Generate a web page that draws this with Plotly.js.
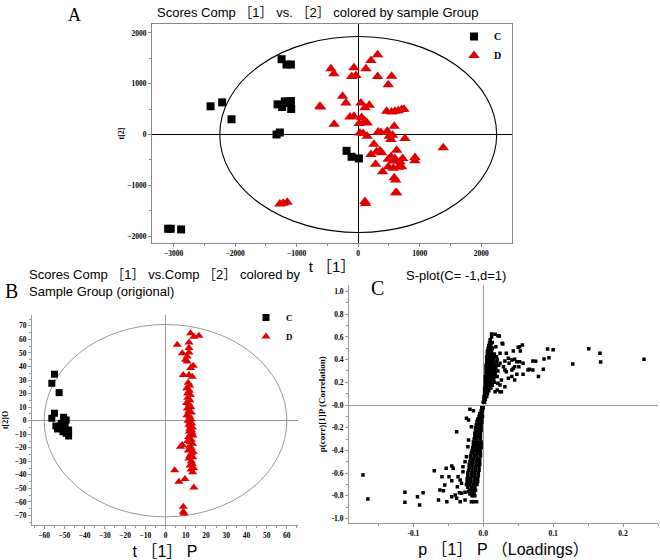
<!DOCTYPE html>
<html><head><meta charset="utf-8">
<script src="https://cdn.plot.ly/plotly-3.0.1.min.js"></script>
<style>html,body{margin:0;padding:0;background:#fff}#chart{width:660px;height:560px}</style>
</head><body><div id="chart"></div>
<script>
// ---------- Panel A data (t[1], t[2]) ----------
const aGroupC = [[-2400,555],[-2211,633],[-2059,300],[-1246,1483],[-1165,1378],[-1094,1378],[-1311,594],[-1236,541],[-1192,653],[-1094,659],[-1089,502],[-1150,620],[-1327,0],[-1273,39],[-189,-322],[-108,-439],[11,-471],[-3089,-1857],[-3046,-1857],[-2878,-1870]];
const aGroupD = [[315,1569],[207,1457],[-444,1294],[-395,1196],[-70,1314],[-107,1143],[-37,1163],[125,1294],[315,1143],[543,1149],[488,980],[-254,751],[-200,620],[-611,541],[44,620],[109,529],[179,574],[-135,345],[-70,359],[55,333],[109,267],[146,227],[-390,202],[16,216],[462,457],[543,443],[597,457],[650,470],[706,490],[743,496],[585,163],[28,31],[81,20],[146,-33],[325,51],[369,39],[472,65],[504,-33],[559,-14],[532,-98],[759,-78],[255,-190],[624,-308],[299,-341],[353,-322],[380,-361],[207,-392],[532,-439],[597,-471],[722,-471],[922,-451],[922,-518],[1382,-263],[283,-588],[488,-635],[569,-667],[650,-647],[706,-635],[397,-733],[585,-851],[608,-896],[624,-1145],[608,-1145],[109,-1322],[120,-1360],[-623,555],[-1273,-1367],[-1220,-1353],[-1154,-1333],[488,-490],[678,-537],[569,-524]];
const aEllipse = {rx: 2250, ry: 1930};
const aXTicks = [-3000,-2000,-1000,0,1000,2000];
const aYTicks = [-2000,-1000,0,1000,2000];

// ---------- Panel B data (t[1]P, t[2]O) ----------
const bGroupC = [[-54.9,34.3],[-56.2,27.6],[-52.6,20.7],[-54.9,5.5],[-56.2,1.8],[-50.4,2.5],[-49.1,0.5],[-54.2,-3.9],[-52.4,-5.2],[-50.4,-4.4],[-47.9,-6.9],[-50.7,-8.1],[-49.1,-9.3],[-47.9,-11.3],[-53.4,-6.1],[-51.6,-1.9],[-49.6,-2.7]];
const bGroupD = [[12.4,64.6],[16.5,62.7],[14,62],[5.8,56],[11.6,57.7],[8.3,49.8],[11.6,53.6],[11.6,50.3],[10.7,47.3],[10.7,43.6],[9.9,44.9],[13.7,40.5],[12.4,38.8],[8.8,33.8],[11.6,33.8],[13.2,32.5],[11.2,28],[12.0,26],[10.5,24],[11.8,22],[10.9,20],[12.3,19],[11.0,17],[12.1,15],[10.4,13],[11.7,12],[12.5,10],[10.8,9],[11.5,7],[12.8,6],[10.6,4],[11.9,3],[12.6,1],[11.1,0],[12.3,-1],[13.0,-2],[11.6,-3],[12.4,-4],[13.3,-5],[12.0,-6],[12.9,-7],[11.8,-8],[13.1,-9],[12.5,-10],[13.6,-11],[11.4,-12],[12.7,-14],[11.0,-15],[12.2,-16],[13.4,-17],[8.3,-18],[7.4,-19.2],[11.8,-19],[12.6,-20],[13.7,-22.9],[11.3,-22],[12.9,-24],[12.0,-26],[13.5,-27],[11.6,-28],[12.8,-30],[13.2,-32],[12.1,-33],[13.9,-35],[12.6,-36],[13.4,-38],[4.5,-36.5],[6.6,-45.1],[9.6,-43.1],[14,-49.3],[8.8,-63.6],[8.8,-67.3],[9.1,-68.5]];
const bEllipse = {rx: 60, ry: 71};
const bXTicks = [-60,-50,-40,-30,-20,-10,0,10,20,30,40,50,60];
const bYTicks = [-70,-60,-50,-40,-30,-20,-10,0,10,20,30,40,50,60,70];

// ---------- Panel C data (S-plot: p[1]P loadings, p(corr)[1]P) ----------
const cUpperCore = [[0.000,0.025],[0.002,0.025],[0.001,0.05],[0.003,0.05],[0.001,0.075],[0.003,0.075],[0.005,0.075],[0.002,0.1],[0.004,0.1],[0.006,0.1],[0.002,0.125],[0.005,0.125],[0.008,0.125],[0.002,0.15],[0.005,0.15],[0.008,0.15],[0.011,0.15],[0.003,0.175],[0.006,0.175],[0.009,0.175],[0.013,0.175],[0.003,0.2],[0.006,0.2],[0.009,0.2],[0.012,0.2],[0.016,0.2],[0.003,0.225],[0.006,0.225],[0.009,0.225],[0.012,0.225],[0.015,0.225],[0.003,0.25],[0.006,0.25],[0.009,0.25],[0.012,0.25],[0.016,0.25],[0.020,0.25],[0.004,0.275],[0.007,0.275],[0.010,0.275],[0.013,0.275],[0.017,0.275],[0.004,0.3],[0.007,0.3],[0.010,0.3],[0.013,0.3],[0.016,0.3],[0.021,0.3],[0.004,0.325],[0.007,0.325],[0.010,0.325],[0.014,0.325],[0.018,0.325],[0.004,0.35],[0.007,0.35],[0.010,0.35],[0.013,0.35],[0.017,0.35],[0.022,0.35],[0.005,0.375],[0.008,0.375],[0.011,0.375],[0.014,0.375],[0.019,0.375],[0.005,0.4],[0.008,0.4],[0.011,0.4],[0.015,0.4],[0.020,0.4],[0.005,0.425],[0.008,0.425],[0.011,0.425],[0.015,0.425],[0.006,0.45],[0.009,0.45],[0.012,0.45],[0.016,0.45],[0.006,0.475],[0.009,0.475],[0.012,0.475],[0.007,0.5],[0.010,0.5],[0.013,0.5],[0.008,0.525],[0.011,0.525],[0.009,0.55],[0.013,0.55],[0.010,0.575],[0.012,0.6]];
const cUpperScatter = [[0.230,0.402],[0.151,0.496],[0.167,0.455],[0.168,0.379],[0.128,0.361],[0.092,0.493],[0.100,0.487],[0.087,0.405],[0.094,0.417],[0.086,0.314],[0.079,0.250],[0.071,0.388],[0.075,0.385],[0.066,0.314],[0.071,0.308],[0.056,0.529],[0.050,0.508],[0.053,0.476],[0.043,0.476],[0.057,0.270],[0.048,0.270],[0.051,0.337],[0.045,0.402],[0.041,0.396],[0.036,0.411],[0.037,0.367],[0.031,0.388],[0.029,0.337],[0.033,0.293],[0.041,0.308],[0.045,0.337],[0.052,0.381],[0.027,0.544],[0.021,0.611],[0.017,0.623],[0.012,0.626],[0.024,0.455],[0.019,0.426],[0.026,0.220],[0.024,0.176],[0.031,0.161],[0.017,0.117],[0.024,0.117],[0.024,0.367],[0.033,0.455],[0.031,0.308],[0.043,0.323],[0.048,0.382],[0.052,0.514],[0.057,0.367],[0.064,0.308],[0.026,0.117],[0.020,0.132],[0.021,0.191],[0.028,0.537],[0.023,0.608],[0.018,0.514],[0.036,0.235],[0.041,0.250],[0.045,0.220]];
const cLowerCore = [[-0.002,-0.025],[0.000,-0.025],[-0.003,-0.05],[-0.001,-0.05],[-0.005,-0.075],[-0.002,-0.075],[-0.006,-0.1],[-0.003,-0.1],[-0.001,-0.1],[-0.008,-0.125],[-0.005,-0.125],[-0.002,-0.125],[-0.009,-0.15],[-0.006,-0.15],[-0.002,-0.15],[-0.010,-0.175],[-0.006,-0.175],[-0.003,-0.175],[-0.011,-0.2],[-0.007,-0.2],[-0.003,-0.2],[-0.011,-0.225],[-0.007,-0.225],[-0.003,-0.225],[-0.012,-0.25],[-0.008,-0.25],[-0.004,-0.25],[-0.012,-0.275],[-0.008,-0.275],[-0.004,-0.275],[-0.013,-0.3],[-0.009,-0.3],[-0.004,-0.3],[-0.014,-0.325],[-0.010,-0.325],[-0.006,-0.325],[-0.003,-0.325],[-0.014,-0.35],[-0.010,-0.35],[-0.006,-0.35],[-0.003,-0.35],[-0.015,-0.375],[-0.011,-0.375],[-0.007,-0.375],[-0.003,-0.375],[-0.016,-0.4],[-0.012,-0.4],[-0.008,-0.4],[-0.004,-0.4],[-0.017,-0.425],[-0.013,-0.425],[-0.008,-0.425],[-0.004,-0.425],[-0.018,-0.45],[-0.013,-0.45],[-0.009,-0.45],[-0.004,-0.45],[-0.018,-0.475],[-0.014,-0.475],[-0.009,-0.475],[-0.005,-0.475],[-0.019,-0.5],[-0.015,-0.5],[-0.010,-0.5],[-0.005,-0.5],[-0.020,-0.525],[-0.015,-0.525],[-0.010,-0.525],[-0.005,-0.525],[-0.020,-0.55],[-0.016,-0.55],[-0.011,-0.55],[-0.006,-0.55],[-0.021,-0.575],[-0.016,-0.575],[-0.011,-0.575],[-0.006,-0.575],[-0.022,-0.6],[-0.017,-0.6],[-0.012,-0.6],[-0.007,-0.6],[-0.022,-0.625],[-0.017,-0.625],[-0.012,-0.625],[-0.007,-0.625],[-0.023,-0.65],[-0.018,-0.65],[-0.013,-0.65],[-0.008,-0.65],[-0.023,-0.675],[-0.018,-0.675],[-0.013,-0.675],[-0.008,-0.675],[-0.024,-0.7],[-0.019,-0.7],[-0.014,-0.7],[-0.009,-0.7],[-0.022,-0.725],[-0.017,-0.725],[-0.012,-0.725],[-0.020,-0.75],[-0.015,-0.75],[-0.011,-0.75],[-0.017,-0.775],[-0.013,-0.775],[-0.016,-0.8],[-0.012,-0.8]];
const cLowerScatter = [[-0.172,-0.617],[-0.165,-0.828],[-0.112,-0.769],[-0.112,-0.857],[-0.094,-0.808],[-0.091,-0.881],[-0.086,-0.772],[-0.070,-0.579],[-0.059,-0.631],[-0.053,-0.558],[-0.045,-0.537],[-0.043,-0.558],[-0.049,-0.631],[-0.045,-0.667],[-0.055,-0.705],[-0.062,-0.749],[-0.057,-0.755],[-0.064,-0.837],[-0.052,-0.852],[-0.045,-0.808],[-0.040,-0.793],[-0.038,-0.822],[-0.034,-0.772],[-0.031,-0.778],[-0.026,-0.769],[-0.021,-0.764],[-0.019,-0.784],[-0.033,-0.852],[-0.026,-0.837],[-0.017,-0.852],[-0.014,-0.852],[-0.0095,-0.852],[-0.038,-0.235],[-0.036,-0.631],[-0.033,-0.661],[-0.031,-0.690],[-0.037,-0.720],[-0.029,-0.587],[-0.029,-0.543],[-0.026,-0.499],[-0.024,-0.455],[-0.022,-0.367],[-0.021,-0.308],[-0.019,-0.038],[-0.014,-0.050],[-0.024,-0.117],[-0.021,-0.132],[-0.017,-0.191]];
const cXTicks = [-0.1,0,0.1,0.2];
const cXTickText = ['-0.1','0.0','0.1','0.2'];
const cYTicks = [-1,-0.8,-0.6,-0.4,-0.2,0,0.2,0.4,0.6,0.8,1];
const cYTickText = ['-1.0','-0.8','-0.6','-0.4','-0.2','-0.0','0.2','0.4','0.6','0.8','1.0'];

// ---------- Text ----------
const titleA = 'Scores Comp ［1］ vs. ［2］ colored by sample Group';
const titleB = 'Scores Comp ［1］ vs.Comp ［2］ colored by<br>Sample Group (origional)';
const titleC = 'S-plot(C= -1,d=1)';
const groupNames = ['C','D'];

// ---------- helpers ----------
const xs = a => a.map(p => p[0]);
const ys = a => a.map(p => p[1]);
const W = 660, H = 560;
const px = v => v / W;            // pixel -> paper x
const py = v => 1 - v / H;        // pixel -> paper y

const RED = '#e00000';
const serifB = {family: 'Liberation Serif, Times New Roman, serif', size: 7.5, weight: 'bold', color: '#000'};
const sans = 'Liberation Sans, Arial, Noto Sans CJK SC, sans-serif';

const traces = [
  {x: xs(aGroupC), y: ys(aGroupC), xaxis: 'x', yaxis: 'y', type: 'scatter', mode: 'markers', name: groupNames[0], legend: 'legend',
   marker: {symbol: 'square', size: 8, color: '#000'}},
  {x: xs(aGroupD), y: ys(aGroupD), xaxis: 'x', yaxis: 'y', type: 'scatter', mode: 'markers', name: groupNames[1], legend: 'legend',
   marker: {symbol: 'triangle-up', size: 10, color: RED}},
  {x: xs(bGroupC), y: ys(bGroupC), xaxis: 'x2', yaxis: 'y2', type: 'scatter', mode: 'markers', name: groupNames[0], legend: 'legend2',
   marker: {symbol: 'square', size: 7, color: '#000'}},
  {x: xs(bGroupD), y: ys(bGroupD), xaxis: 'x2', yaxis: 'y2', type: 'scatter', mode: 'markers', name: groupNames[1], legend: 'legend2',
   marker: {symbol: 'triangle-up', size: 8, color: RED}},
  {x: xs(cUpperCore).concat(xs(cUpperScatter), xs(cLowerCore), xs(cLowerScatter)),
   y: ys(cUpperCore).concat(ys(cUpperScatter), ys(cLowerCore), ys(cLowerScatter)),
   xaxis: 'x3', yaxis: 'y3', type: 'scatter', mode: 'markers', name: 'S-plot', showlegend: false,
   marker: {symbol: 'square', size: 3.5, color: '#000'}}
];

const axA = {showgrid: false, showline: true, mirror: true, linecolor: '#888', linewidth: 1,
  ticks: 'outside', ticklen: 3, tickcolor: '#888', tickfont: serifB,
  zeroline: true, zerolinecolor: '#000', zerolinewidth: 1.2};
const axB = {showgrid: false, showline: true, mirror: false, linecolor: '#999', linewidth: 1,
  ticks: 'outside', ticklen: 3, tickcolor: '#999', tickfont: serifB,
  zeroline: true, zerolinecolor: '#999', zerolinewidth: 1};

const layout = {
  width: W, height: H, margin: {l: 0, r: 0, t: 0, b: 0},
  paper_bgcolor: '#fff', plot_bgcolor: 'rgba(0,0,0,0)',
  font: {family: sans, color: '#000'},
  xaxis: Object.assign({}, axA, {domain: [px(152), px(512)], range: [-3351, 2499], anchor: 'y',
    tickvals: aXTicks, minor: {ticks: 'outside', ticklen: 2, dtick: 500, tickcolor: '#888'},
    title: {text: 't ［1］', font: {family: sans, size: 15}, standoff: 4}}),
  yaxis: Object.assign({}, axA, {domain: [py(243), py(24)], range: [-2137, 2176], anchor: 'x',
    tickvals: aYTicks, minor: {ticks: 'outside', ticklen: 2, dtick: 500, tickcolor: '#888'},
    title: {text: 't[2]', font: {family: 'Liberation Serif, serif', size: 8, weight: 'bold'}, standoff: 1}}),
  xaxis2: Object.assign({}, axB, {domain: [px(32), px(298)], range: [-66, 65.5], anchor: 'y2',
    tickvals: bXTicks, minor: {ticks: 'outside', ticklen: 2, dtick: 5, tickcolor: '#999'},
    title: {text: 't ［1］ P', font: {family: sans, size: 16}, standoff: 6}}),
  yaxis2: Object.assign({}, axB, {domain: [py(525), py(315)], range: [-77, 78], anchor: 'x2',
    tickvals: bYTicks, minor: {ticks: 'outside', ticklen: 2, dtick: 5, tickcolor: '#999'},
    title: {text: 't[2]O', font: {family: 'Liberation Serif, serif', size: 8, weight: 'bold'}, standoff: 4}}),
  xaxis3: Object.assign({}, axB, {domain: [px(349), px(658)], range: [-0.192, 0.25], anchor: 'y3',
    tickvals: cXTicks, ticktext: cXTickText, minor: {ticks: 'outside', ticklen: 2, dtick: 0.05, tickcolor: '#999'},
    title: {text: 'p ［1］ P （Loadings）', font: {family: sans, size: 16}, standoff: 6}}),
  yaxis3: Object.assign({}, axB, {domain: [py(523.3), py(285)], range: [-1.042, 1.057], anchor: 'x3',
    tickvals: cYTicks, ticktext: cYTickText, minor: {ticks: 'outside', ticklen: 2, dtick: 0.1, tickcolor: '#999'},
    title: {text: 'p(corr)[1]P (Correlation)', font: {family: 'Liberation Serif, serif', size: 9, weight: 'bold'}, standoff: 4}}),
  legend: {x: px(454), y: py(22), xanchor: 'left', yanchor: 'top', bgcolor: 'rgba(0,0,0,0)',
    font: {family: 'Liberation Serif, serif', size: 10, weight: 'bold'}, itemwidth: 30, tracegroupgap: 0},
  legend2: {x: px(246), y: py(303), xanchor: 'left', yanchor: 'top', bgcolor: 'rgba(0,0,0,0)',
    font: {family: 'Liberation Serif, serif', size: 9, weight: 'bold'}, itemwidth: 30, tracegroupgap: 0},
  shapes: [
    {type: 'circle', xref: 'x', yref: 'y', x0: -aEllipse.rx, x1: aEllipse.rx, y0: -aEllipse.ry, y1: aEllipse.ry,
     line: {color: '#000', width: 1.1}, layer: 'below'},
    {type: 'circle', xref: 'x2', yref: 'y2', x0: -bEllipse.rx, x1: bEllipse.rx, y0: -bEllipse.ry, y1: bEllipse.ry,
     line: {color: '#999', width: 1}, layer: 'below'}
  ],
  annotations: [
    {text: 'A', x: px(74), y: py(15), xref: 'paper', yref: 'paper', xanchor: 'center', yanchor: 'middle', showarrow: false,
     font: {family: 'Liberation Serif, serif', size: 18}},
    {text: titleA, x: px(318), y: py(12), xref: 'paper', yref: 'paper', xanchor: 'center', yanchor: 'middle', showarrow: false,
     font: {family: sans, size: 13}},
    {text: 'B', x: px(11), y: py(291), xref: 'paper', yref: 'paper', xanchor: 'center', yanchor: 'middle', showarrow: false,
     font: {family: 'Liberation Serif, serif', size: 20}},
    {text: titleB, x: px(27), y: py(283), xref: 'paper', yref: 'paper', xanchor: 'left', yanchor: 'middle', align: 'left', showarrow: false,
     font: {family: sans, size: 13}},
    {text: 'C', x: px(377), y: py(288), xref: 'paper', yref: 'paper', xanchor: 'center', yanchor: 'middle', showarrow: false,
     font: {family: 'Liberation Serif, serif', size: 20}},
    {text: titleC, x: px(456), y: py(275), xref: 'paper', yref: 'paper', xanchor: 'center', yanchor: 'middle', showarrow: false,
     font: {family: sans, size: 13}}
  ]
};

Plotly.newPlot('chart', traces, layout, {staticPlot: true, displayModeBar: false});
</script>
</body></html>
